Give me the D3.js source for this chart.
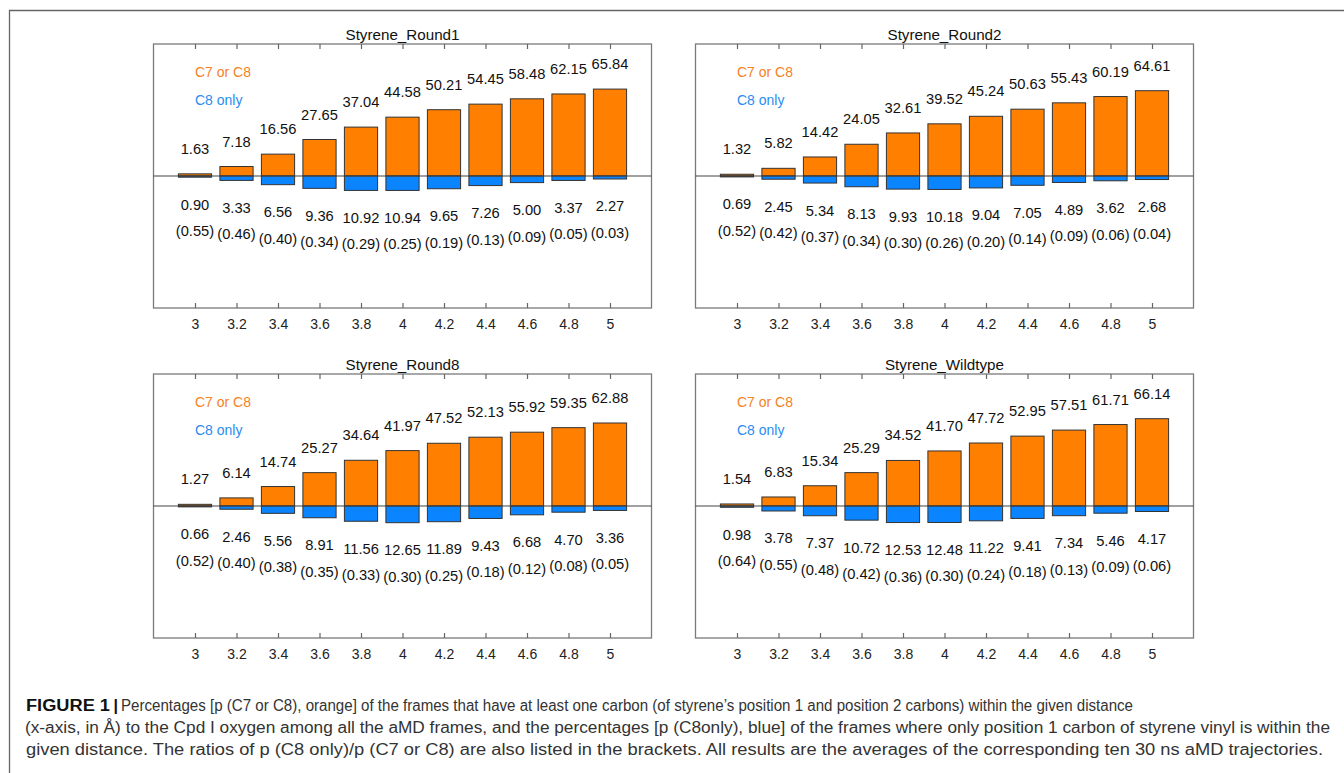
<!DOCTYPE html>
<html>
<head>
<meta charset="utf-8">
<script src="https://cdn.jsdelivr.net/npm/d3@7"></script>
<style>
  body { margin: 0; background: #fff; }
  svg { display: block; font-family: "Liberation Sans", Arial, sans-serif; }
</style>
</head>
<body>
<script>
const width = 1344
const height = 773

const distances = [3, 3.2, 3.4, 3.6, 3.8, 4, 4.2, 4.4, 4.6, 4.8, 5]
const panelNames = ['Styrene_Round1', 'Styrene_Round2', 'Styrene_Round8', 'Styrene_Wildtype']

// p (C7 or C8)
const round1Either = [1.63, 7.18, 16.56, 27.65, 37.04, 44.58, 50.21, 54.45, 58.48, 62.15, 65.84]
const round2Either = [1.32, 5.82, 14.42, 24.05, 32.61, 39.52, 45.24, 50.63, 55.43, 60.19, 64.61]
const round8Either = [1.27, 6.14, 14.74, 25.27, 34.64, 41.97, 47.52, 52.13, 55.92, 59.35, 62.88]
const wildEither   = [1.54, 6.83, 15.34, 25.29, 34.52, 41.70, 47.72, 52.95, 57.51, 61.71, 66.14]

// p (C8 only)
const round1Only = [0.90, 3.33, 6.56, 9.36, 10.92, 10.94, 9.65, 7.26, 5.00, 3.37, 2.27]
const round2Only = [0.69, 2.45, 5.34, 8.13, 9.93, 10.18, 9.04, 7.05, 4.89, 3.62, 2.68]
const round8Only = [0.66, 2.46, 5.56, 8.91, 11.56, 12.65, 11.89, 9.43, 6.68, 4.70, 3.36]
const wildOnly   = [0.98, 3.78, 7.37, 10.72, 12.53, 12.48, 11.22, 9.41, 7.34, 5.46, 4.17]

// ratios in brackets
const round1Ratio = [0.55, 0.46, 0.40, 0.34, 0.29, 0.25, 0.19, 0.13, 0.09, 0.05, 0.03]
const round2Ratio = [0.52, 0.42, 0.37, 0.34, 0.30, 0.26, 0.20, 0.14, 0.09, 0.06, 0.04]
const round8Ratio = [0.52, 0.40, 0.38, 0.35, 0.33, 0.30, 0.25, 0.18, 0.12, 0.08, 0.05]
const wildRatio   = [0.64, 0.55, 0.48, 0.42, 0.36, 0.30, 0.24, 0.18, 0.13, 0.09, 0.06]

const captionLines = [
  'Percentages [p (C7 or C8), orange] of the frames that have at least one carbon (of styrene\u2019s position 1 and position 2 carbons) within the given distance',
  '(x-axis, in \u00C5) to the Cpd I oxygen among all the aMD frames, and the percentages [p (C8only), blue] of the frames where only position 1 carbon of styrene vinyl is within the',
  'given distance. The ratios of p (C8 only)/p (C7 or C8) are also listed in the brackets. All results are the averages of the corresponding ten 30 ns aMD trajectories.'
]

const orange = '#FF7F00'
const blue = '#0A84FF'

const panels = [
  { name: panelNames[0], either: round1Either, only: round1Only, ratio: round1Ratio, left: 153.5, top: 44 },
  { name: panelNames[1], either: round2Either, only: round2Only, ratio: round2Ratio, left: 695.5, top: 44 },
  { name: panelNames[2], either: round8Either, only: round8Only, ratio: round8Ratio, left: 153.5, top: 374 },
  { name: panelNames[3], either: wildEither, only: wildOnly, ratio: wildRatio, left: 695.5, top: 374 }
]
const pw = 498
const ph = 264

const svg = d3.select('body').append('svg').attr('width', width).attr('height', height)

// outer figure frame (only top and left edges visible)
svg.append('path')
  .attr('d', `M ${width + 5} 10.5 H 9.5 V ${height + 5}`)
  .attr('fill', 'none')
  .attr('stroke', '#666')
  .attr('stroke-width', 1.3)

panels.forEach(p => drawPanel(p))

function drawPanel(p) {
  const g = svg.append('g').attr('transform', `translate(${p.left},${p.top})`)
  const x = d3.scaleLinear().domain([2.8, 5.2]).range([0, pw])
  const y = d3.scaleLinear().domain([-100, 100]).range([ph, 0])
  const bw = (x(3.2) - x(3)) * 0.8
  const rows = distances.map((d, i) => ({ d, e: p.either[i], o: p.only[i], r: p.ratio[i] }))

  // box
  g.append('rect')
    .attr('width', pw).attr('height', ph)
    .attr('fill', '#fff')
    .attr('stroke', '#7a7a7a').attr('stroke-width', 1.3)

  const xb = g.append('g').attr('transform', `translate(0,${ph})`)
    .call(d3.axisBottom(x).tickValues(distances).tickFormat(d3.format('')).tickSizeInner(-5).tickSizeOuter(0).tickPadding(11))
  const xt = g.append('g')
    .call(d3.axisTop(x).tickValues(distances).tickFormat('').tickSizeInner(-5).tickSizeOuter(0))
  ;[xb, xt].forEach(a => {
    a.select('.domain').remove()
    a.selectAll('line').attr('stroke', '#666').attr('stroke-width', 1.2)
  })
  xb.selectAll('text').attr('font-size', 14).attr('fill', '#222').attr('font-family', '"Liberation Sans", Arial, sans-serif')

  // orange bars
  g.selectAll('rect.either').data(rows).join('rect')
    .attr('class', 'either')
    .attr('x', d => x(d.d) - bw / 2)
    .attr('width', bw)
    .attr('y', d => y(d.e))
    .attr('height', d => y(0) - y(d.e))
    .attr('fill', orange)
    .attr('stroke', '#333').attr('stroke-width', 1)

  // blue bars
  g.selectAll('rect.only').data(rows).join('rect')
    .attr('class', 'only')
    .attr('x', d => x(d.d) - bw / 2)
    .attr('width', bw)
    .attr('y', y(0))
    .attr('height', d => y(-d.o) - y(0))
    .attr('fill', blue)
    .attr('stroke', '#333').attr('stroke-width', 1)

  // zero line
  g.append('line')
    .attr('x1', 0).attr('x2', pw)
    .attr('y1', y(0)).attr('y2', y(0))
    .attr('stroke', '#444').attr('stroke-width', 1.1)

  const num = d3.format('.2f')
  const lbl = sel => sel.attr('text-anchor', 'middle').attr('font-size', 14.7).attr('fill', '#111')

  g.selectAll('text.ve').data(rows).join('text')
    .attr('class', 've')
    .attr('x', d => x(d.d))
    .attr('y', d => y(d.e) - 20)
    .text(d => num(d.e))
    .call(lbl)

  g.selectAll('text.vo').data(rows).join('text')
    .attr('class', 'vo')
    .attr('x', d => x(d.d))
    .attr('y', d => y(-d.o) + 32.5)
    .text(d => num(d.o))
    .call(lbl)

  g.selectAll('text.vr').data(rows).join('text')
    .attr('class', 'vr')
    .attr('x', d => x(d.d))
    .attr('y', d => y(-d.o) + 59)
    .text(d => `(${num(d.r)})`)
    .call(lbl)

  // legend labels
  g.append('text').attr('x', x(3)).attr('y', 33)
    .attr('font-size', 14).attr('fill', '#F5821F').text('C7 or C8')
  g.append('text').attr('x', x(3)).attr('y', 60.5)
    .attr('font-size', 14).attr('fill', '#2B8CF2').text('C8 only')

  // title
  g.append('text').attr('x', pw / 2).attr('y', -4.5)
    .attr('text-anchor', 'middle').attr('font-size', 15.2).attr('fill', '#111')
    .text(p.name)
}

// caption
const cap = svg.append('g')
  .attr('font-family', '"Liberation Sans Narrow", "Liberation Sans", Arial, sans-serif')
  .attr('font-size', 16)
  .attr('fill', '#333')

cap.append('text')
  .attr('x', 26).attr('y', 710.5)
  .attr('font-weight', 'bold').attr('fill', '#111')
  .attr('textLength', 84).attr('lengthAdjust', 'spacingAndGlyphs')
  .text('FIGURE 1')
cap.append('text')
  .attr('x', 113.5).attr('y', 711)
  .attr('font-weight', 'bold').attr('fill', '#111')
  .text('|')

const lineStarts = [121, 25, 26]
const lineEnds = [1133, 1330, 1323]
const lineYs = [710.5, 733, 755]
captionLines.forEach((t, i) => {
  cap.append('text')
    .attr('x', lineStarts[i]).attr('y', lineYs[i])
    .attr('textLength', lineEnds[i] - lineStarts[i])
    .attr('lengthAdjust', 'spacingAndGlyphs')
    .text(t)
})
</script>
</body>
</html>
